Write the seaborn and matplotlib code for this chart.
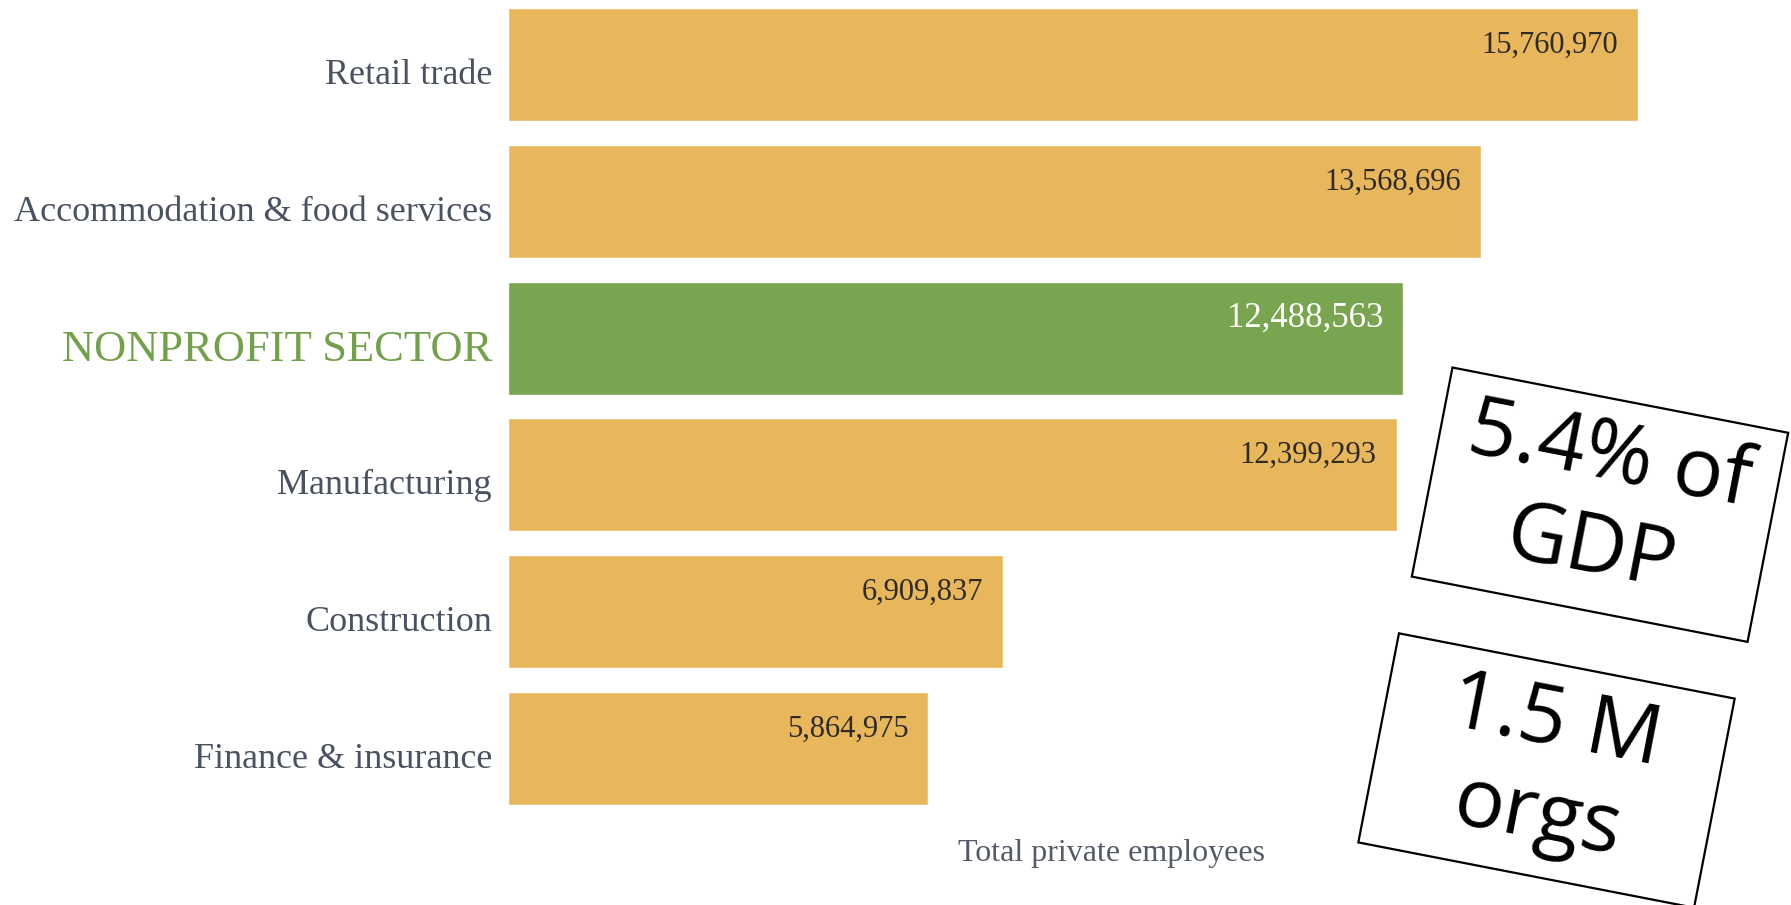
import matplotlib
matplotlib.use("Agg")
import matplotlib.pyplot as plt
import matplotlib.patches as patches
import matplotlib.transforms as mtransforms
import seaborn as sns
import pandas as pd

# ---- data ----
categories = ["Retail trade", "Accommodation & food services", "NONPROFIT SECTOR",
              "Manufacturing", "Construction", "Finance & insurance"]
employees = [15760970, 13568696, 12488563, 12399293, 6909837, 5864975]
value_labels = ["15,760,970", "13,568,696", "12,488,563", "12,399,293", "6,909,837", "5,864,975"]
highlight = "NONPROFIT SECTOR"
xlabel_text = "Total private employees"
callouts = ["5.4% of\nGDP", "1.5 M\norgs"]

GOLD = "#E8B75B"
GREEN = "#79A550"
LABEL_GRAY = "#4A5262"
LABEL_GREEN = "#72A04B"
VALUE_DARK = "#2E2A25"

W, H = 1791, 905
DPI = 100

sns.set_theme(style="white")
plt.rcParams["font.family"] = ["Liberation Serif", "DejaVu Serif"]

fig = plt.figure(figsize=(W / DPI, H / DPI), dpi=DPI)
fig.patch.set_facecolor("white")
ax_left = 508 / W
ax = fig.add_axes([ax_left, 0.0, 1 - ax_left, 1.0])

df = pd.DataFrame({"sector": categories, "employees": employees})
palette = {c: (GREEN if c == highlight else GOLD) for c in categories}
sns.barplot(data=df, x="employees", y="sector", hue="sector", palette=palette,
            legend=False, width=0.826, saturation=1, ax=ax, order=categories)

px_per_unit = 1130 / 15760970
ax.set_xlim(0, (W - 508) / px_per_unit)
spacing = 136.8
ax.set_ylim((H - 64.5) / spacing, -64.5 / spacing)

for s in ax.spines.values():
    s.set_visible(False)
ax.set_xticks([])
ax.set_ylabel("")
ax.tick_params(axis="y", length=0, pad=11.5)
shift = mtransforms.ScaledTranslation(0, -5 / 72, fig.dpi_scale_trans)
for lbl in ax.get_yticklabels():
    txt = lbl.get_text()
    if txt == highlight:
        lbl.set_color(LABEL_GREEN)
        lbl.set_fontsize(32)
    else:
        lbl.set_color(LABEL_GRAY)
        lbl.set_fontsize(26)
    lbl.set_transform(lbl.get_transform() + shift)

# value labels inside the bars
for i, (v, t) in enumerate(zip(employees, value_labels)):
    is_hl = categories[i] == highlight
    ax.annotate(t, xy=(v, i), xytext=(-14.5, 14), textcoords="offset points",
                ha="right", va="center",
                fontsize=25 if is_hl else 22,
                color="white" if is_hl else VALUE_DARK)

ax.set_xlabel(xlabel_text, fontsize=23, color="#555B66")
ax.xaxis.set_label_coords((1112 - 508) / (W - 508), (H - 853) / H)
ax.xaxis.label.set_va("center")

# rotated callout boxes
box_centers = [(1600, H - 504.7), (1546.5, H - 770.5)]
bw, bh, ang = 342, 213, -11
to_fig = mtransforms.Affine2D().scale(1 / W, 1 / H) + fig.transFigure
for (cx, cy), txt in zip(box_centers, callouts):
    tr = mtransforms.Affine2D().rotate_deg_around(cx, cy, ang) + to_fig
    rect = patches.Rectangle((cx - bw / 2, cy - bh / 2), bw, bh, transform=tr,
                             facecolor="white", edgecolor="black", linewidth=1.6)
    fig.add_artist(rect)
    fig.text(cx / W, cy / H, txt, rotation=ang, rotation_mode="anchor",
             ha="center", va="center", fontsize=60, family=["Open Sans", "DejaVu Sans"],
             color="black", linespacing=1.22, multialignment="center")

fig.savefig("out.png", dpi=DPI, facecolor="white")
